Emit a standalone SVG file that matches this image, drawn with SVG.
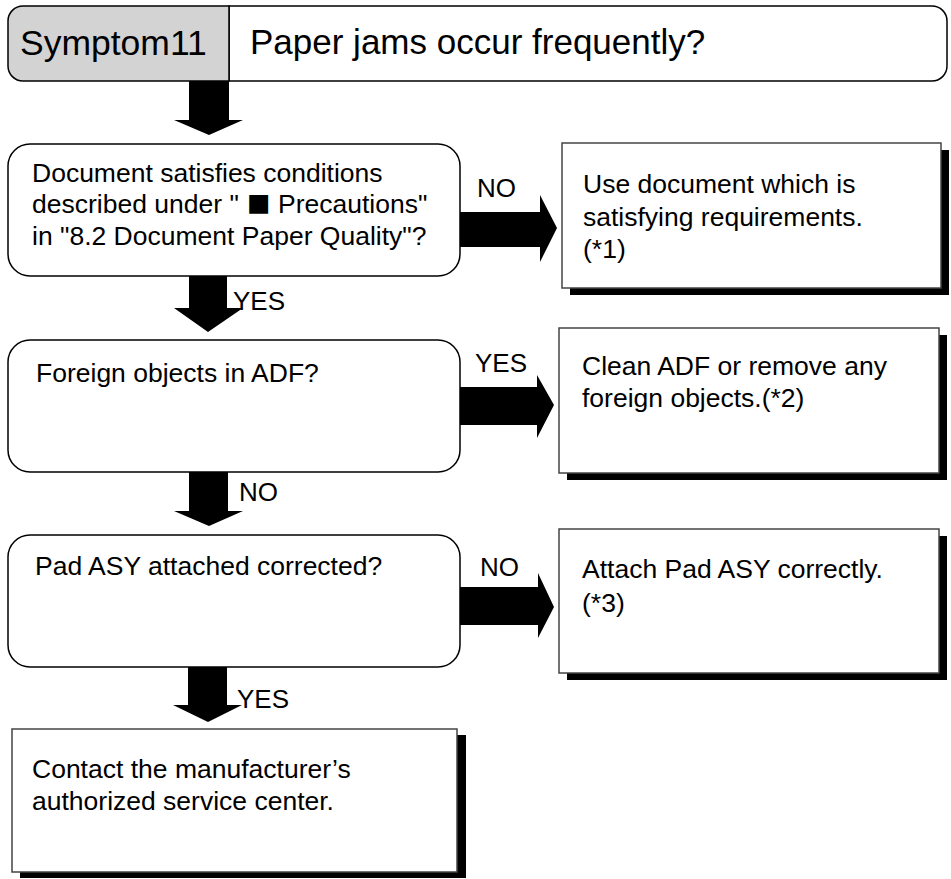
<svg xmlns="http://www.w3.org/2000/svg" width="951" height="879" viewBox="0 0 951 879">
<defs>
<style>
text{font-family:"Liberation Sans",Arial,sans-serif;fill:#000}
.t{font-size:26.5px}
.h{font-size:35.5px}
.lbl{font-size:26px}
.dec{fill:#fff;stroke:#000;stroke-width:1.5}
.box{fill:#fff;stroke:#444;stroke-width:1.5}
.sh{fill:#000}
.arr{fill:#000}
</style>
</defs>
<rect width="951" height="879" fill="#fff"/>
<g id="header">
<path d="M229 6 H932 A15 15 0 0 1 947 21 V66 A15 15 0 0 1 932 81 H229 Z" fill="#fff" stroke="#000" stroke-width="1.5"/>
<path d="M229 6 H23 A15 15 0 0 0 8 21 V66 A15 15 0 0 0 23 81 H229 Z" fill="#d3d3d3" stroke="#000" stroke-width="1.5"/>
<text class="h" x="20" y="55">Symptom11</text>
<text class="h" x="250" y="54" style="font-size:35px">Paper jams occur frequently?</text>
</g>
<g id="connectors">
<polygon class="arr" points="189,81 229,81 229,120 243,120 209,135 174,120 189,120"/>
<polygon class="arr" points="189,276 227,276 227,308 243,308 208,332 174,308 189,308"/>
<polygon class="arr" points="189,472 228,472 228,511 243,511 209,526 174,511 189,511"/>
<polygon class="arr" points="188,667 227,667 227,705 242,705 208,722 173,705 188,705"/>
<polygon class="arr" points="460,212 540,212 540,195 557,228 540,262 540,247 460,247"/>
<polygon class="arr" points="460,387 537,387 537,375 554,405 537,438 537,425 460,425"/>
<polygon class="arr" points="460,587 538,587 538,573 554,607 538,638 538,625 460,625"/>
<text class="lbl" x="477" y="197">NO</text>
<text class="lbl" x="233" y="310">YES</text>
<text class="lbl" x="475" y="372">YES</text>
<text class="lbl" x="239" y="501">NO</text>
<text class="lbl" x="480" y="576">NO</text>
<text class="lbl" x="237" y="708">YES</text>
</g>
<g id="decision1">
<rect class="dec" x="8" y="144" width="452" height="132" rx="22" ry="22"/>
<text class="t" x="32" y="182">Document satisfies conditions</text>
<text class="t"><tspan x="32" y="213">described under "</tspan><tspan x="247" y="216" style="font-size:39px">■</tspan><tspan x="278" y="213">Precautions"</tspan></text>
<text class="t" x="32" y="245">in "8.2 Document Paper Quality"?</text>
</g>
<g id="action1">
<rect class="sh" x="570" y="150" width="379" height="145"/>
<rect class="box" x="562" y="143" width="379" height="145"/>
<text class="t" x="583" y="193">Use document which is</text>
<text class="t" x="583" y="226">satisfying requirements.</text>
<text class="t" x="583" y="258">(*1)</text>
</g>
<g id="decision2">
<rect class="dec" x="8" y="340" width="452" height="132" rx="22" ry="22"/>
<text class="t" x="36" y="382">Foreign objects in ADF?</text>
</g>
<g id="action2">
<rect class="sh" x="567" y="335" width="380" height="145"/>
<rect class="box" x="559" y="328" width="380" height="145"/>
<text class="t" x="582" y="375">Clean ADF or remove any</text>
<text class="t" x="582" y="407">foreign objects.(*2)</text>
</g>
<g id="decision3">
<rect class="dec" x="8" y="535" width="452" height="132" rx="22" ry="22"/>
<text class="t" x="35" y="575">Pad ASY attached corrected?</text>
</g>
<g id="action3">
<rect class="sh" x="567" y="536" width="380" height="144"/>
<rect class="box" x="559" y="529" width="380" height="144"/>
<text class="t" x="582" y="578">Attach Pad ASY correctly.</text>
<text class="t" x="582" y="612">(*3)</text>
</g>
<g id="final">
<rect class="sh" x="20" y="735" width="446" height="143"/>
<rect class="box" x="12" y="729" width="445" height="143"/>
<text class="t" x="32" y="778">Contact the manufacturer’s</text>
<text class="t" x="32" y="810">authorized service center.</text>
</g>
</svg>
